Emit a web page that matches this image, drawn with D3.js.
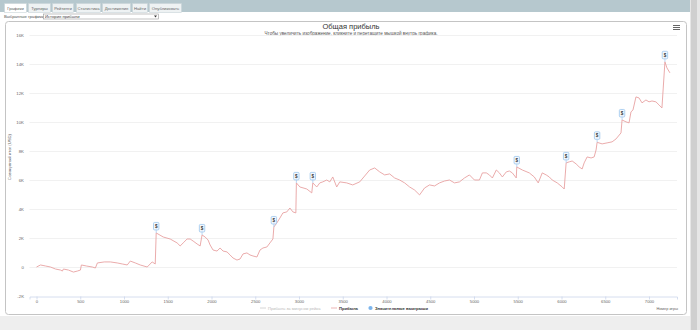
<!DOCTYPE html>
<html><head><meta charset="utf-8">
<script src="https://cdn.jsdelivr.net/npm/d3@7/dist/d3.min.js"></script>
<style>body{margin:0;background:#fff;overflow:hidden}svg{display:block;font-family:"Liberation Sans",Arial,sans-serif}</style>
</head><body>
<svg id="c" width="700" height="330"></svg>
<script>
const tabs = ["Графики","Турниры","Рейтинги","Статистика","Достижения","Найти","Опубликовать"];
const games = [0,46,103,160,217,274,296,308,365,422,467,502,513,570,638,673,696,775,844,923,980,1037,1072,1129,1186,1265,1322,1357,1368,1448,1528,1607,1642,1676,1721,1756,1790,1835,1870,1892,1927,1961,1984,2018,2063,2098,2132,2177,2212,2246,2291,2326,2360,2405,2440,2474,2519,2554,2588,2633,2668,2702,2713,2747,2782,2816,2861,2896,2930,2964,2970,3010,3089,3146,3158,3203,3238,3272,3317,3352,3386,3431,3466,3545,3614,3694,3751,3808,3865,3922,3979,4036,4093,4150,4207,4264,4321,4378,4435,4492,4549,4606,4663,4720,4777,4834,4891,4948,5005,5062,5096,5141,5176,5210,5255,5290,5324,5369,5404,5438,5483,5489,5552,5632,5689,5734,5780,5825,5860,5894,5951,6008,6031,6053,6088,6122,6167,6202,6236,6259,6293,6338,6373,6395,6407,6464,6521,6578,6623,6680,6692,6737,6772,6794,6817,6851,6886,6920,6965,7000,7034,7079,7114,7148,7182,7205,7239];
const profit = [0,140,70,0,-140,-210,-280,-140,-210,-350,-280,-210,140,70,0,-70,280,350,350,280,210,140,410,280,140,0,350,210,2350,2070,1930,1660,1450,1660,1930,1930,1790,1590,1450,2210,2070,1860,1520,1170,1100,1310,1100,1040,830,620,480,550,900,970,830,760,690,1170,1310,1380,1660,1930,2760,3040,3380,3730,3800,4070,3800,3730,5800,5520,5380,5110,5800,5520,5800,5870,6000,5870,6210,5520,5870,5800,5660,5870,6280,6690,6830,6560,6350,6420,6140,6000,5800,5520,5310,4970,5450,5660,5590,5800,5930,6000,5800,5870,6140,6350,6000,6000,6490,6490,6350,6140,6690,6490,6210,6560,6620,6490,6140,6900,6690,6490,6210,5800,6490,6350,6210,6000,5800,5520,5380,7180,7250,7310,7110,6900,6760,7180,7590,7520,7590,8070,8600,8490,8560,8630,8830,9250,10140,10010,9940,10700,10830,11730,11660,11320,11520,11390,11450,11390,11180,10970,14150,13730,13390];
const bigWinGames = [1368,1892,2713,2970,3158,5489,6053,6407,6692,7182];
const xTicks = [0,500,1000,1500,2000,2500,3000,3500,4000,4500,5000,5500,6000,6500,7000];
const yTicks = [-2000,0,2000,4000,6000,8000,10000,12000,14000,16000];
const legendItems = ["Прибыль за минусом рейка","Прибыль","Значительные выигрыши"];

const svg = d3.select("#c");
// page chrome
svg.append("rect").attr("x",0).attr("y",0).attr("width",690).attr("height",12).attr("fill","#b6c8ce");
svg.append("rect").attr("x",0).attr("y",316).attr("width",690).attr("height",14).attr("fill","#eeeeee");
svg.append("rect").attr("x",690).attr("y",0).attr("width",10).attr("height",330).attr("fill","#e6e6e6");
svg.append("rect").attr("x",691).attr("y",0).attr("width",6).attr("height",330).attr("fill","#cfcfcf");

const tabX = [4,28,52,76,102,132,149], tabW=[22,22,21,24,28,15,32];
tabs.forEach((t,i)=>{
  svg.append("rect").attr("x",tabX[i]+0.5).attr("y",3.5).attr("width",tabW[i]).attr("height",9)
    .attr("fill",i===0?"#ffffff":"#eef2f3").attr("stroke","#c9d4d7").attr("stroke-width",0.6);
  svg.append("text").attr("x",tabX[i]+tabW[i]/2+0.5).attr("y",9.6).attr("text-anchor","middle")
    .attr("font-size",4.2).attr("fill","#666").text(t);
});
svg.append("text").attr("x",4).attr("y",17.8).attr("font-size",4.2).attr("fill","#555").text("Выбранные графики:");
svg.append("rect").attr("x",43.5).attr("y",14).attr("width",115).attr("height",5).attr("fill","#fff").attr("stroke","#999").attr("stroke-width",0.6);
svg.append("text").attr("x",45).attr("y",17.8).attr("font-size",4.2).attr("fill","#444").text("История прибыли");
svg.append("path").attr("d","M154,15.6 L157,15.6 L155.5,17.4 Z").attr("fill","#333");

// chart box
svg.append("rect").attr("x",5.5).attr("y",21.5).attr("width",681).attr("height",293).attr("rx",3)
  .attr("fill","#fff").attr("stroke","#c4c4c4").attr("stroke-width",1);

svg.append("text").attr("x",351).attr("y",29).attr("text-anchor","middle").attr("font-size",7.5).attr("fill","#333").text("Общая прибыль");
svg.append("text").attr("x",351).attr("y",35).attr("text-anchor","middle").attr("font-size",4.6).attr("fill","#555")
  .text("Чтобы увеличить изображение, кликните и перетащите мышкой внутрь графика.");
[25,27,29].forEach(y=>svg.append("rect").attr("x",673).attr("y",y).attr("width",7).attr("height",1).attr("fill","#666"));

const x = d3.scaleLinear().domain([-80,7320]).range([29.5,677]);
const y = d3.scaleLinear().domain([-2000,16000]).range([296,35]);

// grid
svg.append("g").selectAll("line").data(yTicks.filter(v=>v>-2000)).join("line")
  .attr("x1",29.5).attr("x2",677).attr("y1",d=>Math.round(y(d))+0.5).attr("y2",d=>Math.round(y(d))+0.5)
  .attr("stroke","#eeeeee").attr("stroke-width",0.8);
svg.append("g").selectAll("text").data(yTicks).join("text")
  .attr("x",24).attr("y",d=>y(d)+1.6).attr("text-anchor","end").attr("font-size",4.3).attr("fill","#666")
  .text(d=>d===0?"0":(d/1000)+"K");
// x axis
const xa = svg.append("g").attr("transform","translate(0,296.5)")
  .call(d3.axisBottom(x).tickValues(xTicks).tickSize(3).tickPadding(1).tickFormat(d3.format("d")));
xa.select(".domain").attr("stroke","#ccd6eb").attr("stroke-width",0.8);
xa.selectAll(".tick line").attr("stroke","#ccd6eb").attr("stroke-width",0.8);
xa.selectAll("text").attr("font-size",4.2).attr("fill","#666").attr("font-family","Liberation Sans, Arial");
svg.append("text").attr("transform","translate(10.5,157) rotate(-90)").attr("text-anchor","middle")
  .attr("font-size",4.2).attr("fill","#666").text("Совокупный итог (USD)");
svg.append("text").attr("x",678).attr("y",309.5).attr("text-anchor","end").attr("font-size",3.9).attr("fill","#666").text("Номер игры");

// line
const pts = games.map((g,i)=>[g,profit[i]]);
svg.append("path").datum(pts)
  .attr("d",d3.line().x(d=>x(d[0])).y(d=>y(d[1])))
  .attr("fill","none").attr("stroke","#e8a2a2").attr("stroke-width",0.9).attr("stroke-linejoin","round");

// flags
bigWinGames.forEach(g=>{
  const v = profit[games.indexOf(g)];
  const px = x(g), py = y(v);
  const grp = svg.append("g");
  grp.append("line").attr("x1",px).attr("x2",px).attr("y1",py).attr("y2",py-3).attr("stroke","#9cc6ee").attr("stroke-width",0.7);
  grp.append("rect").attr("x",px-2.7).attr("y",py-10.5).attr("width",5.4).attr("height",7.5).attr("rx",1)
    .attr("fill","#f2f7fd").attr("stroke","#9cc6ee").attr("stroke-width",0.8);
  grp.append("text").attr("x",px).attr("y",py-5.2).attr("text-anchor","middle").attr("font-size",4.6).attr("font-weight","bold").attr("fill","#333").text("$");
});

// legend
const ly = 308;
svg.append("line").attr("x1",260).attr("x2",266).attr("y1",ly).attr("y2",ly).attr("stroke","#cccccc").attr("stroke-width",0.8);
svg.append("text").attr("x",268).attr("y",ly+1.5).attr("font-size",4.1).attr("fill","#bbbbbb").text(legendItems[0]);
svg.append("line").attr("x1",331).attr("x2",337).attr("y1",ly).attr("y2",ly).attr("stroke","#e8a2a2").attr("stroke-width",0.8);
svg.append("text").attr("x",339).attr("y",ly+1.5).attr("font-size",4.1).attr("font-weight","bold").attr("fill","#333").text(legendItems[1]);
svg.append("circle").attr("cx",370.5).attr("cy",ly).attr("r",2.1).attr("fill","#7cb5ec");
svg.append("text").attr("x",375).attr("y",ly+1.5).attr("font-size",4.1).attr("font-weight","bold").attr("fill","#333").text(legendItems[2]);
</script>
</body></html>
